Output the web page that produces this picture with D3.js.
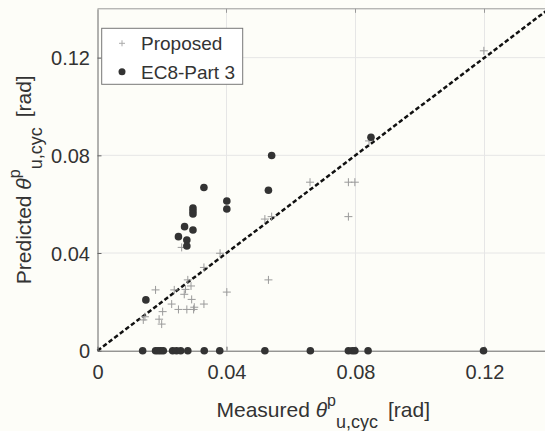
<!DOCTYPE html>
<html>
<head>
<meta charset="utf-8">
<script src="https://cdn.jsdelivr.net/npm/d3@7"></script>
<style>
body { margin: 0; background: #fdfdf8; }
text { font-family: "Liberation Sans", Arial, sans-serif; fill: #333; }
</style>
</head>
<body>
<div id="chart"></div>
<script>
// measured vs predicted rotation (rad)
var proposedX = [0.0142, 0.0147, 0.0180, 0.0191, 0.0199, 0.0202, 0.0230, 0.0238, 0.0251, 0.0261,
    0.0269, 0.0273, 0.0277, 0.0280, 0.0290, 0.0292, 0.0300, 0.0298, 0.0330, 0.0330,
    0.0380, 0.0401, 0.0519, 0.0540, 0.0530, 0.0659, 0.0778, 0.0798, 0.0778, 0.0842, 0.1198];
var proposedY = [0.0126, 0.0139, 0.0249, 0.0129, 0.0109, 0.0160, 0.0191, 0.0249, 0.0169, 0.0423,
    0.0231, 0.0251, 0.0169, 0.0290, 0.0265, 0.0210, 0.0178, 0.0169, 0.0191, 0.0341,
    0.0399, 0.0240, 0.0539, 0.0549, 0.0290, 0.0690, 0.0690, 0.0690, 0.0549, 0.0859, 0.1228];

var ec8X = [0.0150, 0.0251, 0.0277, 0.0277, 0.0270, 0.0296, 0.0296, 0.0296, 0.0296, 0.0330,
    0.0401, 0.0401, 0.0530, 0.0540, 0.0848,
    0.0140, 0.0180, 0.0188, 0.0196, 0.0204, 0.0233, 0.0245, 0.0258, 0.0280, 0.0331,
    0.0379, 0.0519, 0.0660, 0.0778, 0.0790, 0.0798, 0.0839, 0.1197];
var ec8Y = [0.0208, 0.0467, 0.0453, 0.0429, 0.0508, 0.0494, 0.0584, 0.0572, 0.0560, 0.0668,
    0.0613, 0.0580, 0.0657, 0.0799, 0.0874,
    0, 0, 0, 0, 0, 0, 0, 0, 0, 0,
    0, 0, 0, 0, 0, 0, 0, 0];

var xTicks = [0, 0.04, 0.08, 0.12];
var yTicks = [0, 0.04, 0.08, 0.12];
var refLine = [0, 0.14];
var seriesNames = ["Proposed", "EC8-Part 3"];

var width = 545, height = 431;
var plotLeft = 97.5, plotRight = 549, plotTop = 8.8, plotBottom = 350.7;

var x = d3.scaleLinear().domain([0, 0.14]).range([plotLeft, plotRight]);
var y = d3.scaleLinear().domain([0, 0.14]).range([plotBottom, plotTop]);
var fmt = function (d) { return d === 0 ? "0" : d.toFixed(2); };

var svg = d3.select("#chart")
    .append("svg")
    .attr("width", width)
    .attr("height", height);

svg.append("rect")
    .attr("width", width).attr("height", height)
    .attr("fill", "#fdfdf8");

// grid
svg.append("g")
    .selectAll("line")
    .data(xTicks.slice(1))
    .enter().append("line")
    .attr("x1", d => x(d)).attr("x2", d => x(d))
    .attr("y1", plotTop).attr("y2", plotBottom)
    .attr("stroke", "#e6e6e6").attr("stroke-width", 1);
svg.append("g")
    .selectAll("line")
    .data(yTicks.slice(1))
    .enter().append("line")
    .attr("x1", plotLeft).attr("x2", plotRight)
    .attr("y1", d => y(d)).attr("y2", d => y(d))
    .attr("stroke", "#e6e6e6").attr("stroke-width", 1);

// 1:1 line
svg.append("line")
    .attr("x1", x(refLine[0])).attr("y1", y(refLine[0]))
    .attr("x2", x(refLine[1])).attr("y2", y(refLine[1]))
    .attr("stroke", "#111")
    .attr("stroke-width", 2.5)
    .attr("stroke-dasharray", "4.5,2.5");

// proposed crosses
var crossPath = "M-4,0H4M0,-4V4";
svg.append("g")
    .selectAll("path")
    .data(proposedX.map((v, i) => [v, proposedY[i]]))
    .enter().append("path")
    .attr("d", crossPath)
    .attr("transform", d => "translate(" + x(d[0]) + "," + y(d[1]) + ")")
    .attr("stroke", "#9a9a9a")
    .attr("stroke-width", 1)
    .attr("fill", "none");

// axes
var axisColor = "#666";
var xAxis = svg.append("g")
    .attr("transform", "translate(0," + plotBottom + ")")
    .call(d3.axisBottom(x).tickValues(xTicks).tickFormat(fmt).tickSizeInner(-4).tickSizeOuter(0).tickPadding(12));
var yAxis = svg.append("g")
    .attr("transform", "translate(" + plotLeft + ",0)")
    .call(d3.axisLeft(y).tickValues(yTicks).tickFormat(fmt).tickSizeInner(-4).tickSizeOuter(0).tickPadding(12));
[xAxis, yAxis].forEach(function (a) {
    a.select(".domain").attr("stroke", axisColor);
    a.selectAll(".tick line").attr("stroke", axisColor);
    a.selectAll(".tick text")
        .style("font-family", "'Liberation Sans', Arial, sans-serif")
        .style("font-size", "20px")
        .attr("fill", "#333");
});
xAxis.selectAll(".tick text").attr("y", 14);
yAxis.selectAll(".tick text").attr("x", -7.5).attr("dy", "0.35em");

// top border
svg.append("line")
    .attr("x1", plotLeft).attr("x2", plotRight)
    .attr("y1", plotTop).attr("y2", plotTop)
    .attr("stroke", "#999");
svg.append("g")
    .selectAll("line")
    .data(xTicks.slice(1))
    .enter().append("line")
    .attr("x1", d => x(d)).attr("x2", d => x(d))
    .attr("y1", plotTop).attr("y2", plotTop + 4)
    .attr("stroke", "#999");

// EC8 circles
svg.append("g")
    .selectAll("circle")
    .data(ec8X.map((v, i) => [v, ec8Y[i]]))
    .enter().append("circle")
    .attr("cx", d => x(d[0]))
    .attr("cy", d => y(d[1]))
    .attr("r", 3.8)
    .attr("fill", "#333");

// axis titles
function labelWithTheta(sel, name) {
    sel.append("tspan").text(name + " ");
    sel.append("tspan").style("font-style", "italic").text("\u03b8");
    sel.append("tspan").attr("dy", -11).style("font-size", "16px").text("p");
    sel.append("tspan").attr("dy", 22).style("font-size", "18px").text("u,cyc");
    sel.append("tspan").attr("dy", -11).attr("dx", 10).text("[rad]");
}

var xt = svg.append("text")
    .attr("x", (plotLeft + plotRight) / 2)
    .attr("y", 417)
    .attr("text-anchor", "middle")
    .style("font-size", "21px");
labelWithTheta(xt, "Measured");

var yt = svg.append("text")
    .attr("transform", "translate(31," + ((plotTop + plotBottom) / 2) + ") rotate(-90)")
    .attr("text-anchor", "middle")
    .style("font-size", "21px");
labelWithTheta(yt, "Predicted");

// legend
var lg = svg.append("g");
lg.append("rect")
    .attr("x", 101.7).attr("y", 28.3)
    .attr("width", 141).attr("height", 56)
    .attr("fill", "#fff")
    .attr("stroke", "#777");
var rows = lg.selectAll("g.row")
    .data(seriesNames)
    .enter().append("g")
    .attr("transform", (d, i) => "translate(0," + (43.3 + i * 28.4) + ")");
rows.filter((d, i) => i === 0).append("path")
    .attr("d", "M-3,0H3M0,-3V3")
    .attr("transform", "translate(122,0)")
    .attr("stroke", "#aaa");
rows.filter((d, i) => i === 1).append("circle")
    .attr("cx", 122).attr("r", 3.5)
    .attr("fill", "#333");
rows.append("text")
    .attr("x", 141)
    .attr("dy", "0.36em")
    .style("font-size", "19px")
    .text(d => d);
</script>
</body>
</html>
